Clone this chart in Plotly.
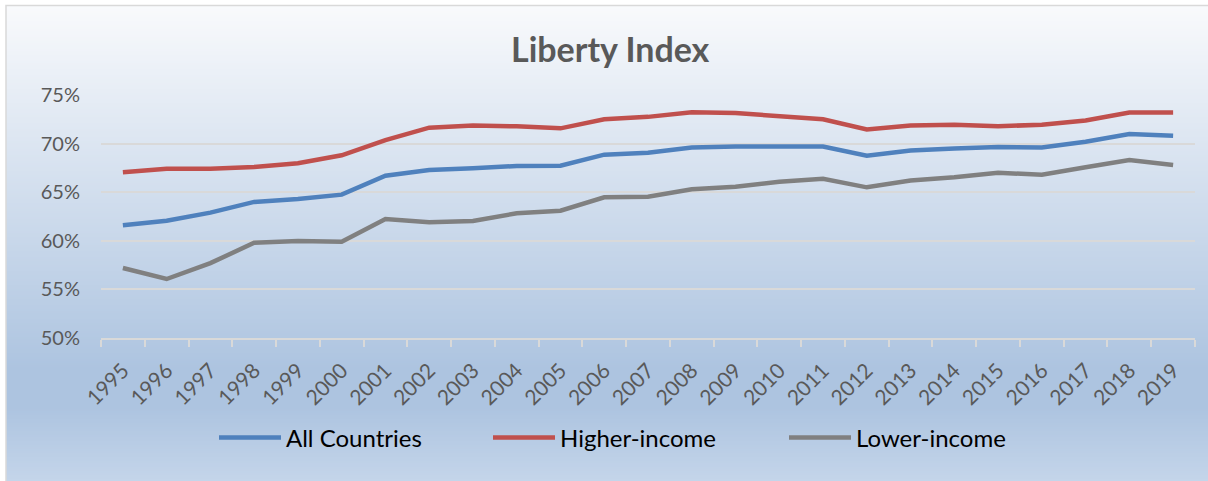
import plotly.graph_objects as go

years = [str(y) for y in range(1995, 2020)]
all_countries = [61.6, 62.07, 62.9, 64.0, 64.3, 64.75, 66.7, 67.28, 67.46, 67.7, 67.73, 68.86, 69.07,
                 69.6, 69.7, 69.75, 69.7, 68.75, 69.3, 69.5, 69.65, 69.6, 70.2, 70.99, 70.8]
higher_income = [67.05, 67.4, 67.4, 67.6, 67.97, 68.8, 70.35, 71.64, 71.85, 71.78, 71.57, 72.5, 72.75,
                 73.22, 73.15, 72.85, 72.5, 71.45, 71.85, 71.95, 71.78, 71.95, 72.38, 73.2, 73.2]
lower_income = [57.2, 56.07, 57.7, 59.8, 59.98, 59.9, 62.25, 61.9, 62.04, 62.83, 63.1, 64.47, 64.54,
                 65.3, 65.57, 66.08, 66.39, 65.5, 66.2, 66.53, 67.0, 66.8, 67.56, 68.3, 67.8]
y_ticks = [50, 55, 60, 65, 70, 75]
y_tick_labels = ["50%", "55%", "60%", "65%", "70%", "75%"]

W, H = 1208, 481
L, R, T, B = 101, 13, 95, 143
PW, PH = W - L - R, H - T - B


def px_x(px):
    return (px - L) / PW


def px_y(py):
    return (H - B - py) / PH


def hex2rgb(h):
    h = h.lstrip("#")
    return tuple(int(h[i:i + 2], 16) for i in (0, 2, 4))


stops = [(5, "#f9fafc"), (369, "#adc4e0"), (408, "#adc4e0"), (490, "#c7d7eb")]


def grad(py):
    for (p0, c0), (p1, c1) in zip(stops[:-1], stops[1:]):
        if p0 <= py <= p1:
            t = (py - p0) / (p1 - p0)
            a, b = hex2rgb(c0), hex2rgb(c1)
            return "rgb(%d,%d,%d)" % tuple(round(a[i] + (b[i] - a[i]) * t) for i in range(3))
    return stops[-1][1]


shapes = []
step = 2
for py in range(5, 484, step):
    shapes.append(dict(type="rect", xref="paper", yref="paper", layer="below",
                       x0=px_x(6), x1=px_x(1215), y0=px_y(py + step + 0.5), y1=px_y(py),
                       fillcolor=grad(py + step / 2), line=dict(width=0)))
shapes.append(dict(type="rect", xref="paper", yref="paper", layer="below",
                   x0=px_x(6), x1=px_x(1215), y0=px_y(495), y1=px_y(5.5),
                   fillcolor="rgba(0,0,0,0)", line=dict(color="#d9d9d9", width=1.5)))

fig = go.Figure()
series = [("All Countries", all_countries, "#4f81bd", "legend", 222),
          ("Higher-income", higher_income, "#c0504d", "legend2", 496),
          ("Lower-income", lower_income, "#808080", "legend3", 792)]
legends = {}
for name, vals, col, lg, lx in series:
    fig.add_trace(go.Scatter(x=years, y=vals, name=name, mode="lines", legend=lg,
                             line=dict(color=col, width=4.5)))
    legends[lg] = dict(orientation="h", x=px_x(lx - 8), xanchor="left", y=px_y(438),
                       yanchor="middle", font=dict(size=24, color="#000000", family="Lato"),
                       itemwidth=62, bgcolor="rgba(0,0,0,0)", borderwidth=0)

fig.update_layout(
    width=W, height=H,
    margin=dict(l=L, r=R, t=T, b=B),
    paper_bgcolor="white",
    plot_bgcolor="rgba(0,0,0,0)",
    shapes=shapes,
    font=dict(family="Lato, sans-serif", color="#595959"),
    annotations=[dict(text="<b>Liberty Index</b>", xref="paper", yref="paper",
                      x=px_x(610), y=px_y(49), xanchor="center", yanchor="middle",
                      showarrow=False, font=dict(size=34, color="#595959", family="Lato"))],
    showlegend=True,
    **legends,
)
fig.update_xaxes(type="category", tickangle=-45, tickson="boundaries", ticks="outside",
                 ticklen=7, tickwidth=2, tickcolor="#d9d9d9", showline=True, linecolor="#d9d9d9",
                 linewidth=2, showgrid=False, tickfont=dict(size=21, color="#595959"),
                 ticklabelstandoff=10, range=[-0.5, 24.5])
fig.update_yaxes(range=[50, 75], tickvals=y_ticks, ticktext=y_tick_labels, showgrid=True,
                 gridcolor="#d9d9d9", gridwidth=1.5, zeroline=False, showline=False,
                 tickfont=dict(size=20, color="#595959"), ticklabelstandoff=20)

fig.write_html("out.html")
